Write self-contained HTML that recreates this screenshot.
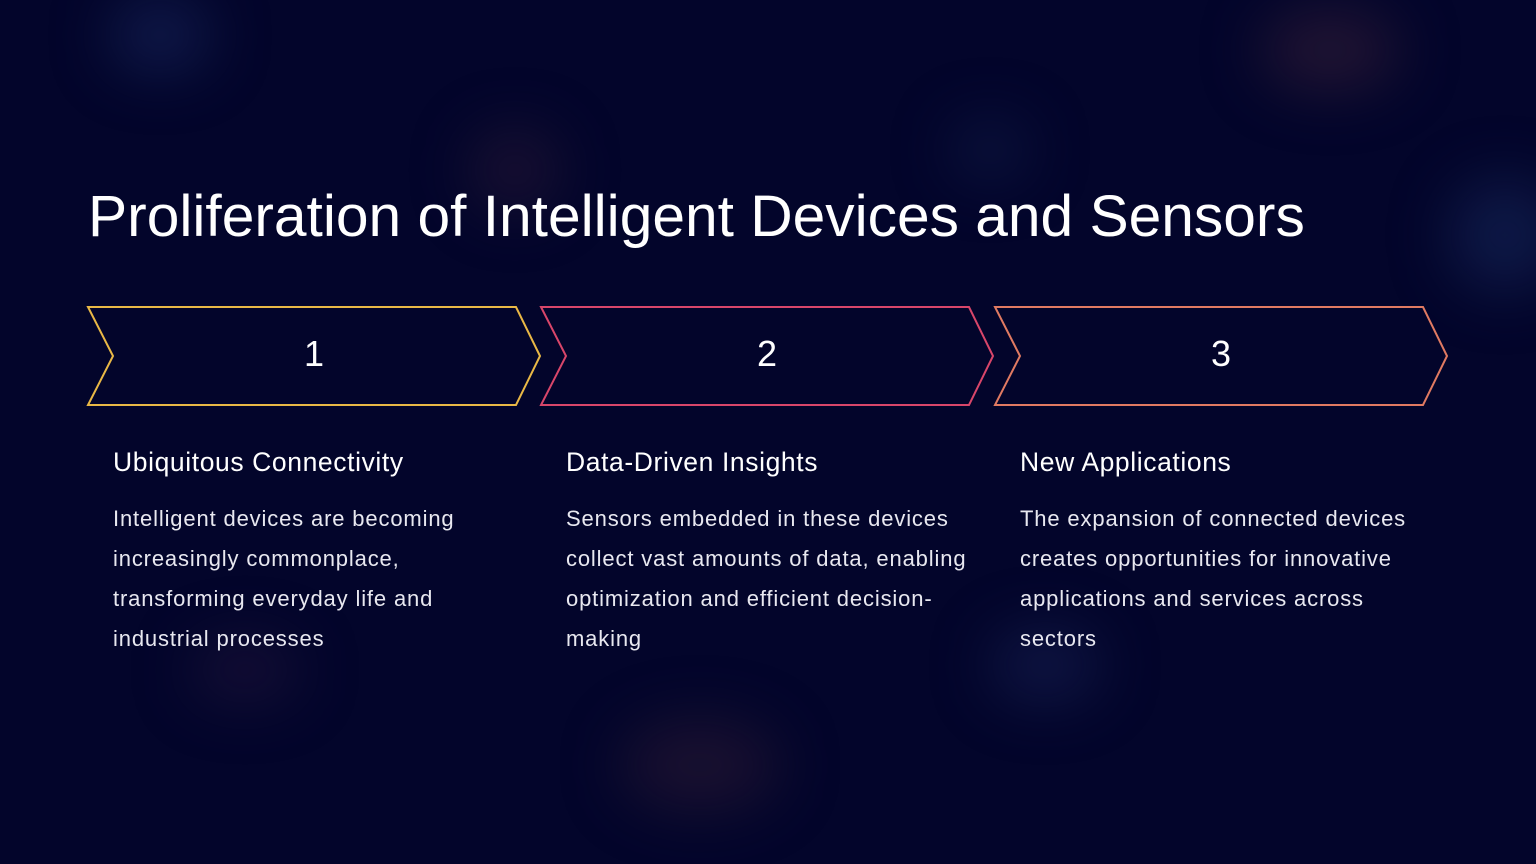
<!DOCTYPE html>
<html><head><style>
html,body{margin:0;padding:0}
body{width:1536px;height:864px;overflow:hidden;position:relative;background:#03052b;font-family:"Liberation Sans",sans-serif;color:#fff}
.glow{position:absolute;border-radius:50%;filter:blur(30px)}
h1{position:absolute;left:88px;top:183px;margin:0;font-weight:normal;font-size:58.7px;letter-spacing:0px;white-space:nowrap}
.t{position:absolute;top:447px;font-size:26.5px;letter-spacing:0.6px;white-space:nowrap}
.d{position:absolute;top:499px;font-size:22px;letter-spacing:0.85px;line-height:40px;color:#e8e8f0;width:420px;white-space:nowrap}
svg{position:absolute;left:0;top:0}
</style></head><body>
<div class="glow" style="left:110px;top:0;width:100px;height:70px;background:rgba(30,50,110,.5)"></div>
<div class="glow" style="left:1260px;top:10px;width:140px;height:80px;background:rgba(70,40,60,.45)"></div>
<div class="glow" style="left:1450px;top:180px;width:110px;height:110px;background:rgba(25,45,100,.5)"></div>
<div class="glow" style="left:470px;top:130px;width:90px;height:80px;background:rgba(60,35,60,.4)"></div>
<div class="glow" style="left:950px;top:120px;width:80px;height:60px;background:rgba(25,40,90,.4)"></div>
<div class="glow" style="left:620px;top:720px;width:160px;height:90px;background:rgba(60,35,55,.4)"></div>
<div class="glow" style="left:990px;top:630px;width:110px;height:70px;background:rgba(30,45,100,.45)"></div>
<div class="glow" style="left:190px;top:640px;width:110px;height:60px;background:rgba(50,30,70,.4)"></div>
<h1>Proliferation of Intelligent Devices and Sensors</h1>
<svg width="1536" height="864">
<polygon points="88,307 516,307 540,356 516,405 88,405 113,356" fill="#03052b" stroke="#e9b846" stroke-width="2"/>
<polygon points="541,307 969,307 993,356 969,405 541,405 566,356" fill="#03052b" stroke="#d8466a" stroke-width="2"/>
<polygon points="995,307 1423,307 1447,356 1423,405 995,405 1020,356" fill="#03052b" stroke="#e07a62" stroke-width="2"/>
<g font-family="Liberation Sans, sans-serif" font-size="36" fill="#fff" text-anchor="middle">
<text x="314" y="366">1</text><text x="767" y="366">2</text><text x="1221" y="366">3</text>
</g>
</svg>
<div class="t" style="left:113px">Ubiquitous Connectivity</div>
<div class="t" style="left:566px">Data-Driven Insights</div>
<div class="t" style="left:1020px">New Applications</div>
<div class="d" style="left:113px">Intelligent devices are becoming<br>increasingly commonplace,<br>transforming everyday life and<br>industrial processes</div>
<div class="d" style="left:566px">Sensors embedded in these devices<br>collect vast amounts of data, enabling<br>optimization and efficient decision-<br>making</div>
<div class="d" style="left:1020px">The expansion of connected devices<br>creates opportunities for innovative<br>applications and services across<br>sectors</div>
</body></html>
